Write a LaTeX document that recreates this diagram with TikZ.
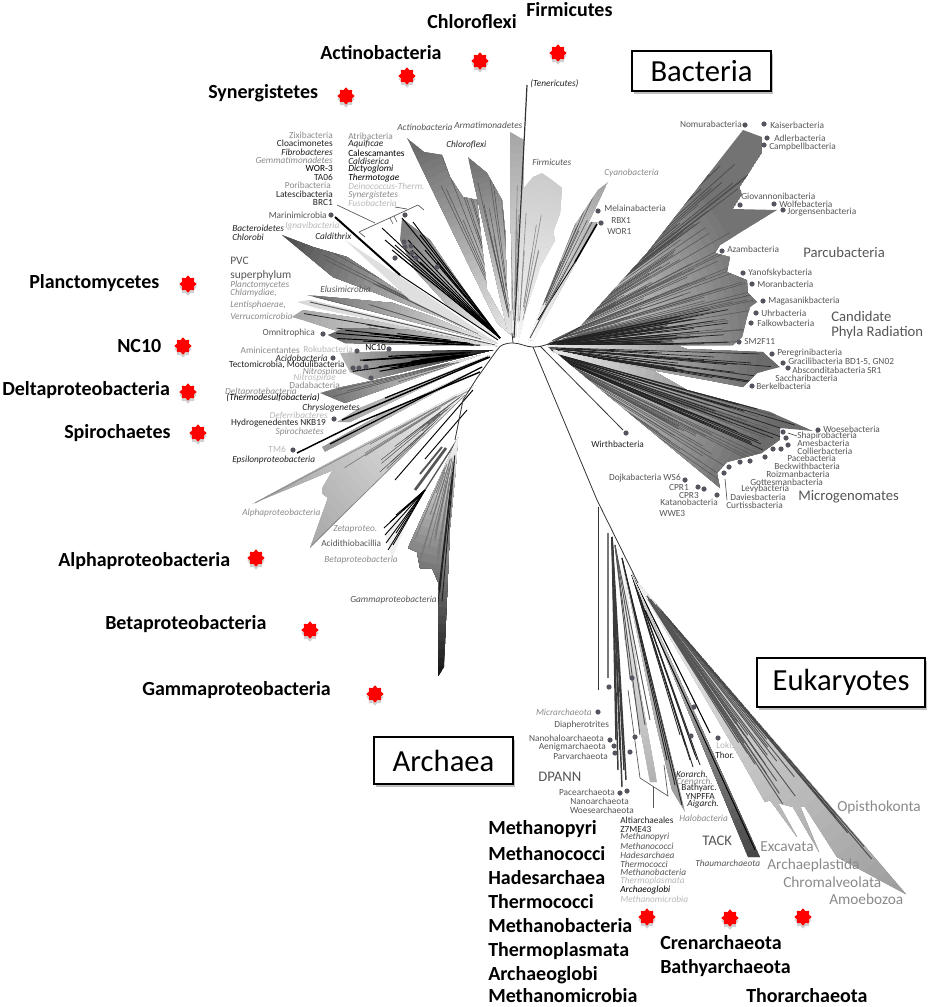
\documentclass[tikz,border=0pt]{standalone}
\usepackage{fontspec}
\setmainfont{Carlito}
\usetikzlibrary{shapes.geometric}
\definecolor{ca}{HTML}{222222}
\definecolor{cb}{HTML}{555555}
\definecolor{cc}{HTML}{8A8A8A}
\definecolor{cd}{HTML}{B8B8B8}
\definecolor{dotc}{HTML}{555560}
\newcommand\sz[1]{\fontsize{#1}{#1}\selectfont}
\newcounter{lb}
\newcommand\lab[6]{\stepcounter{lb}\node[anchor=#3,inner sep=0pt,text=#4,font=#5] (L\thelb) at (#1,#2) {#6};}
\newcommand\slab[4]{\lab{#1}{#2}{west}{#3}{\sz{7}}{#4}}
\newcommand\srab[4]{\lab{#1}{#2}{east}{#3}{\sz{7}}{#4}}
\newcommand\ilab[4]{\lab{#1}{#2}{west}{#3}{\sz{7}\itshape}{#4}}
\newcommand\irab[4]{\lab{#1}{#2}{east}{#3}{\sz{7}\itshape}{#4}}
\newcommand\mlab[5]{\lab{#1}{#2}{west}{#3}{\sz{#4}}{#5}}
\newcommand\bglab[3]{\lab{#1}{#2}{west}{black}{\sz{15}\bfseries}{#3}}
% radial gradient inside the current polygon: apex x, y, radius, black% at apex, black% at radius
\newcommand\radfill[5]{\begin{scope}\clip \Pth -- cycle;
 \fill[black!#5] \Pth -- cycle;
 \foreach \k in {28,27,...,1}{\pgfmathsetmacro\pct{#4+(#5-#4)*\k/28}\pgfmathsetmacro\rad{#3*\k/28}
 \fill[black!\pct] (#1,#2) circle (\rad);}\end{scope}}
\newcommand\raysin[8]{\begin{scope}\clip \Pth -- cycle;
 \foreach \i in {1,...,#7}{\pgfmathsetmacro\aang{#3+(#4-#3)*rnd}\pgfmathsetmacro\rrad{#5+(#6-#5)*rnd}\pgfmathsetmacro\sss{15+35*rnd}\pgfmathsetmacro\lll{\rrad-\sss}
 \draw[#8] (#1,#2) ++(\aang:\sss) -- ++(\aang:\lll);}\end{scope}}
\newcommand\redstar[2]{\node[star,star points=8,star point ratio=1.35,minimum size=13pt,inner sep=0pt,fill=black,fill opacity=.18,draw=none] at (#1,#2+3) {};
 \node[star,star points=8,star point ratio=1.35,minimum size=13pt,inner sep=0pt,fill=red,draw=none] at (#1,#2) {};}
\newcommand\tbox[6]{\fill[black,opacity=.25] (#1+2,#2+3) rectangle (#3+2,#4+3);
 \node[draw=black,line width=1.1pt,fill=white,minimum width=(#3-#1)*0.75pt,minimum height=(#4-#2)*0.75pt,inner sep=0pt,font=\sz{23}] (#6) at ({(#1+#3)/2},{(#2+#4)/2}) {#5};}
\tikzset{rayd/.style={cb,line width=.4pt},raym/.style={cc,line width=.45pt},
 tree/.style={black!80,line width=.6pt},brk/.style={cb,line width=.5pt}}
\begin{document}
\begin{tikzpicture}[x=0.75pt,y=-0.75pt]
\useasboundingbox (0,0) rectangle (933,1007);
\pgfmathsetseed{4242}
%---- Parcubacteria
\def\Pth{(547,345) -- (553,340) -- (580,327) -- (647,253) -- (743,130) -- (762,137) -- (762,153) -- (740,187) -- (742,195) -- (733,209) -- (777,210) -- (720,245) -- (715,253) -- (730,257) -- (727,272) -- (747,280) -- (748,293) -- (757,302) -- (750,307) -- (747,317) -- (742,337) -- (733,345) -- (675,345)}
\radfill{530}{347}{235}{2}{55}
\raysin{530}{347}{-46}{-1}{90}{235}{130}{rayd}
\raysin{530}{347}{-46}{-36}{170}{290}{22}{ca!80,line width=.6pt}
\raysin{530}{347}{-12}{-1}{130}{205}{30}{ca,line width=.55pt}
%---- Peregrini
\def\Pth{(553,352) -- (547,345) -- (675,345) -- (687,349) -- (763,352) -- (780,367) -- (757,373) -- (743,387) -- (707,380) -- (652,370)}
\radfill{530}{347}{235}{2}{58}
\raysin{530}{347}{1}{10}{120}{250}{22}{ca,line width=.5pt}
%---- Microgenomates
\def\Pth{(553,350) -- (652,370) -- (687,390) -- (770,412) -- (813,431) -- (780,428) -- (780,440) -- (762,453) -- (727,462) -- (717,473) -- (720,488)}
\radfill{530}{347}{255}{2}{58}
\raysin{530}{347}{15}{37}{150}{260}{50}{rayd}
\raysin{530}{347}{15}{24}{190}{285}{18}{ca,line width=.55pt}
%---- Actinobacteria
\def\Pth{(407,138) -- (424,152) -- (442,155) -- (450,177) -- (463,197) -- (477,200) -- (487,290) -- (512,335) -- (497,323)}
\radfill{512}{335}{215}{8}{58}
\raysin{512}{335}{-118}{-100}{90}{225}{14}{rayd}
%---- Chloroflexi
\def\Pth{(468,157) -- (487,173) -- (502,200) -- (505,230) -- (507,290) -- (513,333) -- (508,333)}
\radfill{513}{335}{180}{8}{55}
\raysin{513}{335}{-104}{-94}{90}{180}{10}{rayd}
%---- Armatimonadetes, Firmicutes
\def\Pth{(510,132) -- (524,140) -- (522,250) -- (516,336) -- (512,336)}
\radfill{514}{336}{205}{5}{35}
\raysin{514}{336}{-93}{-86}{100}{200}{7}{raym}
\def\Pth{(518,342) -- (520,193) -- (533,177) -- (542,173) -- (552,180) -- (562,188) -- (560,213) -- (553,232) -- (555,240) -- (540,267) -- (525,313)}
\radfill{518}{342}{170}{3}{20}
\raysin{518}{342}{-90}{-70}{70}{150}{10}{raym}
%---- Tenericutes
\coordinate (ten) at (527,85); \coordinate (tb) at (514,338);
\draw[tree,line width=.9pt] (ten) -- (tb);
%---- Cyanobacteria and relatives
\def\Pth{(608,182) -- (598,190) -- (575,225) -- (528,342) -- (532,340)}
\radfill{527}{342}{175}{0}{35}
\raysin{527}{342}{-68}{-62}{80}{170}{9}{rayd}
\def\Pth{(598,222) -- (590,222) -- (530,340) -- (533,340)}
\radfill{530}{340}{130}{0}{30}
\draw[black,line width=1.2pt] (575,262) -- (597,224);
\draw[black,line width=.6pt] (538,320) -- (575,262);
\draw[cb,line width=.7pt] (530,338) -- (592,222);
%---- Bacteroidetes
\def\Pth{(282,235) -- (313,247) -- (347,257) -- (397,290) -- (497,343) -- (440,317) -- (333,277)}
\radfill{497}{343}{240}{3}{70}
\raysin{497}{343}{-155}{-146}{120}{235}{14}{rayd}
%---- black group
\def\Pth{(402,218) -- (430,240) -- (445,262) -- (498,338) -- (450,308) -- (415,270) -- (400,240)}
\radfill{498}{338}{140}{3}{50}
\foreach \x/\y in {382/228,385/240,392/250,398/255,402/218,413/222,420/235,412/250,420/262,437/262,395/245,408/240,425/250}{\draw[black,line width=.7pt] (500,338) -- (\x,\y);}
\path[fill=gray!25] (345,240) -- (420,290) -- (495,342) -- (410,300) -- cycle;
\draw[black,line width=1.5pt] (335,217) -- (400,275); \draw[black,line width=.7pt] (400,275) -- (498,340);
%---- Elusimicrobia
\def\Pth{(307,295) -- (393,303) -- (433,317) -- (495,343) -- (367,310)}
\radfill{497}{344}{190}{5}{55}
\raysin{497}{344}{-170}{-160}{90}{195}{8}{rayd}
%---- PVC
\def\Pth{(297,302) -- (310,300) -- (495,345) -- (317,308)}
\radfill{495}{345}{200}{3}{15}
\draw[cb,line width=.7pt] (310,302) -- (495,345);
\def\Pth{(292,317) -- (303,310) -- (370,320) -- (495,346) -- (350,335) -- (303,320)}
\radfill{495}{346}{205}{5}{35}
\raysin{497}{346}{-176}{-170}{90}{205}{10}{ca,line width=.6pt}
%---- Omnitrophica
\def\Pth{(328,335) -- (345,328) -- (410,330) -- (497,346) -- (420,345) -- (345,343)}
\radfill{497}{346}{170}{5}{60}
\raysin{497}{346}{-178}{-172}{70}{165}{10}{black,line width=.7pt}
%---- Acido group
\def\Pth{(340,353) -- (370,352) -- (493,350) -- (370,380) -- (350,372)}
\radfill{493}{350}{150}{90}{30}
\raysin{495}{351}{170}{182}{60}{150}{18}{black,line width=.8pt}
%---- Delta
\def\Pth{(320,393) -- (342,387) -- (400,375) -- (480,355) -- (345,403)}
\radfill{485}{355}{165}{5}{55}
\raysin{485}{355}{160}{168}{80}{165}{7}{rayd}
%---- Chrysiogenetes, Spirochaetes, TM6
\def\Pth{(337,422) -- (360,408) -- (490,355) -- (350,422)}
\radfill{490}{355}{160}{10}{35}
\draw[black,line width=1.1pt] (342,420) -- (490,357);
\draw[black,line width=.9pt] (385,398) -- (488,357);
\def\Pth{(322,447) -- (380,415) -- (482,367) -- (325,452)}
\radfill{482}{367}{170}{10}{40}
\draw[black,line width=.9pt] (330,444) -- (482,367);
\draw[black,line width=1.1pt] (297,453) -- (360,422) -- (480,372);
%---- Alpha
\def\Pth{(252,504) -- (333,470) -- (323,487) -- (322,493) -- (328,498) -- (310,548) -- (460,397) -- (475,385)}
\radfill{476}{385}{240}{3}{35}
\raysin{476}{385}{143}{152}{80}{170}{6}{cc!90!black,line width=.5pt}
\raysin{476}{385}{135}{143}{60}{130}{16}{rayd}
\draw[raym,line width=.6pt] (255,503) -- (470,390);
\draw[raym,line width=.6pt] (312,545) -- (465,395);
%---- separate long rays
\coordinate (ra) at (395,480); \coordinate (rb) at (473,390); \draw[black,line width=.7pt] (ra) -- (rb);
\draw[black,line width=.7pt] (425,459) -- (467,410); \draw[cb,line width=1.4pt] (420,474) -- (442,447);
%---- Beta
\path[fill=gray!12] (385,533) -- (395,520) -- (415,505) -- (392,558) -- cycle;
\foreach \x/\y in {388/550,393/545,386/543,385/535,384/528,396/533,390/522,396/515,404/510}{\draw[black,line width=.65pt] (\x,\y) -- (425,490);}
\draw[cb,line width=2pt] (415,490) -- (446,448);
\draw[cb,line width=1pt] (425,490) -- (457,440);
%---- Gamma
\def\Pth{(458,437) -- (408,548) -- (417,552) -- (420,568) -- (432,568) -- (438,582) -- (438,677) -- (444,667) -- (450,527) -- (455,477)}
\radfill{456}{440}{235}{3}{90}
\raysin{456}{440}{92}{125}{50}{130}{22}{cb!80,line width=.55pt}
\raysin{456}{440}{94}{98}{150}{235}{4}{ca,line width=.7pt}
%---- trunks
\draw[tree] (497,350) .. controls (500,345) and (505,343) .. (513,343) .. controls (520,343) and (526,347) .. (533,347) .. controls (545,347) and (555,342) .. (580,327);
\draw[tree] (513,343) -- (512,333);
\draw[tree] (497,350) -- (477,378) -- (463,400) -- (455,440);
\coordinate (ar) at (533,347); \coordinate (as) at (638,583);
\draw[tree] (ar) -- (597,500) -- (as);
\coordinate (wa) at (540,346); \coordinate (wb) at (623,430); \draw[tree] (wa) -- (wb);
\draw[tree] (598,507) -- (598,690);
%---- Archaea
\draw[cb!80,line width=1.3pt] (608,533) -- (608,678);
\def\Pth{(622,557) -- (640,690) -- (657,782) -- (650,782) -- (635,700) -- (625,640)}
\radfill{622}{557}{230}{0}{30}
\foreach \x/\y in {622/787,626/780,618/770,616/740,620/750,624/770}{\draw[cb!70!black,line width=1.1pt] (612,537) -- (\x,\y);}
\foreach \x/\y in {630/677,640/735,645/725,650/720}{\draw[cb,line width=.7pt] (615,545) -- (\x,\y);}
\def\Pth{(622,560) -- (685,812) -- (672,790) -- (655,720)}
\radfill{622}{560}{260}{15}{40}
\foreach \x/\y in {667/760,675/785,682/805}{\draw[black!85,line width=.7pt] (622,558) -- (\x,\y);}
\foreach \x/\y in {693/767,697/760,690/760,685/745,680/735,700/765,695/755}{\draw[black!85,line width=.65pt] (632,575) -- (\x,\y);}
\draw[black,line width=.8pt] (632,575) -- (710,733);
\def\Pth{(632,575) -- (760,857) -- (748,857) -- (700,740)}
\radfill{632}{575}{310}{10}{72}
\draw[black,line width=.7pt] (645,610) -- (755,850);
%---- Eukaryotes
\def\Pth{(638,583) -- (907,895) -- (837,857) -- (805,807) -- (800,806) -- (819,852) -- (793,807) -- (778,803) -- (797,837) -- (770,800) -- (765,802) -- (743,763)}
\radfill{638}{583}{410}{5}{38}
\raysin{638}{583}{49.5}{58}{170}{265}{24}{cb,line width=.7pt}
\raysin{638}{583}{49.2}{50.5}{300}{410}{5}{cb!85!black,line width=.7pt}
%---- brackets and leader lines
\draw[brk] (337,205) -- (375,223);
\draw[brk] (365,237) -- (359,232) -- (418,205) -- (424,210);
\draw[brk] (390,218) -- (393,224) (394,216) -- (397,222);
\draw[brk] (395,207) -- (407,209);
\draw[brk] (628,690) -- (640,778) -- (668,796) -- (664,765);
\draw[brk] (653,787) -- (653,808);
\draw[brk] (788,433) -- (797,436);
\draw[brk] (725,479) -- (727,500);
%---- dots
\foreach \x/\y in {331/215,405/215,404/242,405/247,411/246,412/253,416/258,395/258,437/267,323/334,389/349,357/351,333/358,353/368,359/368,366/367,371/378,334/419,293/450,
745/125,764/124,767/138,764/145,740/205,774/204,783/210,722/251,743/273,752/284,763/301,756/313,751/323,739/342,772/354,783/363,788/368,752/386,
818/430,783/432,786/438,788/445,781/449,773/449,765/457,750/461,740/462,729/467,724/473,685/480,698/487,704/489,717/495,626/433,
598/712,609/687,632/678,610/740,614/746,615/753,620/793,627/791,635/737,630/752,694/707,691/736,718/738,598/211,601/223}{\fill[dotc] (\x,\y) circle (2.6);}
%---- stars
\redstar{480}{61}\redstar{558}{53}\redstar{407}{76}\redstar{346}{96}\redstar{188}{284}\redstar{183}{346}\redstar{188}{392}\redstar{198}{433}\redstar{256}{558}\redstar{310}{630}\redstar{375}{694}\redstar{647}{917}\redstar{730}{918}\redstar{803}{917}
%---- boxes
\tbox{632}{51}{771}{91}{Bacteria}{bbox}
\tbox{757}{658}{925}{707}{Eukaryotes}{ebox}
\tbox{374}{737}{513}{784}{Archaea}{abox}
%---- big labels
\bglab{427}{22}{Chloroflexi}\bglab{526}{10}{Firmicutes}\bglab{320}{53}{Actinobacteria}\bglab{208}{93}{Synergistetes}
\bglab{29}{283}{Planctomycetes}\bglab{117}{346}{NC10}\bglab{2}{390}{Deltaproteobacteria}\bglab{64}{433}{Spirochaetes}
\bglab{58}{561}{Alphaproteobacteria}\bglab{105}{624}{Betaproteobacteria}\bglab{142}{690}{Gammaproteobacteria}
\bglab{488}{829}{Methanopyri}\bglab{488}{854}{Methanococci}\bglab{488}{878}{Hadesarchaea}\bglab{488}{902}{Thermococci}
\bglab{488}{926}{Methanobacteria}\bglab{488}{951}{Thermoplasmata}\bglab{488}{975}{Archaeoglobi}\bglab{488}{996}{Methanomicrobia}
\bglab{660}{943}{Crenarchaeota}\bglab{660}{968}{Bathyarchaeota}\bglab{746}{996}{Thorarchaeota}
%---- top left small labels
\srab{333}{135}{cc}{Zixibacteria}\srab{333}{143}{ca}{Cloacimonetes}\irab{333}{152}{ca}{Fibrobacteres}\irab{333}{160}{cc}{Gemmatimonadetes}
\srab{333}{168}{black}{WOR-3}\srab{333}{177}{ca}{TA06}\srab{331}{185}{cc}{Poribacteria}\srab{333}{194}{ca}{Latescibacteria}\srab{333}{202}{ca}{BRC1}
\slab{348}{136}{cc}{Atribacteria}\ilab{348}{144}{ca}{Aquificae}\slab{348}{153}{black}{Calescamantes}\ilab{348}{161}{ca}{Caldiserica}
\ilab{348}{169}{black}{Dictyoglomi}\ilab{348}{178}{black}{Thermotogae}\ilab{348}{186}{cd}{Deinococcus-Therm.}\ilab{348}{195}{cc}{Synergistetes}\ilab{348}{203}{cd}{Fusobacteria}
\srab{327}{215}{cb}{Marinimicrobia}\ilab{232}{228}{ca}{Bacteroidetes}\ilab{232}{237}{ca}{Chlorobi}\ilab{285}{226}{cd}{Ignavibacteria}\ilab{315}{236}{ca}{Caldithrix}
\mlab{230}{261}{cb}{8.6}{PVC}\mlab{230}{275}{cb}{8.6}{superphylum}
\ilab{230}{285}{cc}{Planctomycetes}\ilab{230}{293}{cc}{Chlamydiae,}\ilab{230}{305}{cc}{Lentisphaerae,}\ilab{230}{316}{cc}{Verrucomicrobia}
\ilab{320}{289}{cb}{Elusimicrobia}\srab{315}{333}{cb}{Omnitrophica}
\ilab{397}{127}{cb}{Actinobacteria}\ilab{454}{125}{cb}{Armatimonadetes}\ilab{446}{145}{ca}{Chloroflexi}\ilab{530}{84}{ca}{(Tenericutes)}
\ilab{532}{162}{cb}{Firmicutes}\ilab{604}{173}{cc}{Cyanobacteria}\slab{604}{208}{cb}{Melainabacteria}\slab{611}{220}{cb}{RBX1}\slab{607}{231}{cb}{WOR1}
%---- left middle
\srab{300}{350}{cc}{Aminicentantes}\slab{303}{349}{cd}{Rokubacteria}\slab{365}{347}{black}{NC10}\irab{328}{358}{ca}{Acidobacteria}
\srab{345}{365}{ca}{Tectomicrobia, Modulibacteria}\irab{347}{372}{cc}{Nitrospinae}\irab{336}{378}{cd}{Nitrospirae}\srab{340}{385}{cc}{Dadabacteria}
\irab{297}{392}{cc}{Deltaprotebacteria}\irab{320}{398}{black}{(Thermodesulfobacteria)}\irab{360}{408}{ca}{Chrysiogenetes}\irab{328}{416}{cd}{Deferribacteres}
\srab{326}{423}{ca}{Hydrogenedentes NKB19}\irab{324}{432}{cc}{Spirochaetes}\srab{286}{449}{cd}{TM6}\ilab{232}{460}{ca}{Epsilonproteobacteria}
\ilab{242}{513}{cc}{Alphaproteobacteria}\ilab{333}{529}{cc}{Zetaproteo.}\slab{321}{543}{cb}{Acidithiobacillia}\ilab{324}{560}{cc}{Betaproteobacteria}\ilab{350}{600}{cb}{Gammaproteobacteria}
%---- CPR
\srab{742}{124}{cb}{Nomurabacteria}\slab{770}{125}{cb}{Kaiserbacteria}\slab{774}{138}{cb}{Adlerbacteria}\slab{769}{147}{cb}{Campbellbacteria}
\slab{741}{196}{cb}{Giovannonibacteria}\slab{779}{204}{cb}{Wolfebacteria}\slab{787}{212}{cb}{Jorgensenbacteria}\slab{727}{249}{cb}{Azambacteria}
\mlab{803}{252}{cb}{11}{Parcubacteria}\slab{748}{273}{cb}{Yanofskybacteria}\slab{757}{284}{cb}{Moranbacteria}\slab{768}{301}{cb}{Magasanikbacteria}
\slab{761}{313}{cb}{Uhrbacteria}\slab{757}{323}{cb}{Falkowbacteria}\slab{744}{341}{cb}{SM2F11}\mlab{831}{316}{cb}{11}{Candidate}\mlab{831}{333}{cb}{11}{Phyla Radiation}
\slab{777}{353}{cb}{Peregrinibacteria}\slab{788}{362}{cb}{Gracilibacteria BD1-5, GN02}\slab{792}{370}{cb}{Absconditabacteria SR1}\slab{775}{378}{cb}{Saccharibacteria}\slab{756}{386}{cb}{Berkelbacteria}
\slab{823}{429}{cb}{Woesebacteria}\slab{797}{436}{cb}{Shapirobacteria}\slab{797}{443}{cb}{Amesbacteria}\slab{797}{451}{cb}{Collierbacteria}\slab{787}{458}{cb}{Pacebacteria}
\slab{774}{466}{cb}{Beckwithbacteria}\slab{766}{474}{cb}{Roizmanbacteria}\slab{750}{482}{cb}{Gottesmanbacteria}\slab{741}{489}{cb}{Levybacteria}\slab{730}{497}{cb}{Daviesbacteria}\slab{726}{505}{cb}{Curtissbacteria}
\mlab{798}{497}{cb}{11}{Microgenomates}\srab{681}{478}{cb}{Dojkabacteria WS6}\srab{689}{487}{cb}{CPR1}\srab{699}{495}{cb}{CPR3}\srab{718}{502}{cb}{Katanobacteria}\slab{659}{513}{cb}{WWE3}\slab{591}{444}{ca}{Wirthbacteria}
%---- Archaea labels
\irab{592}{712}{cc}{Micrarchaeota}\slab{554}{725}{cb}{Diapherotrites}\srab{604}{738}{cb}{Nanohaloarchaeota}\srab{606}{747}{cb}{Aenigmarchaeota}\srab{608}{756}{cb}{Parvarchaeota}
\mlab{538}{777}{cb}{11}{DPANN}\srab{615}{792}{cb}{Pacearchaeota}\srab{629}{801}{cb}{Nanoarchaeota}\srab{634}{810}{cb}{Woesearchaeota}
\slab{620}{820}{ca}{Altiarchaeales}\slab{620}{829}{ca}{Z7ME43}\ilab{620}{837}{cb}{Methanopyri}\ilab{620}{846}{cb}{Methanococci}\ilab{620}{855}{cb}{Hadesarchaea}\ilab{620}{864}{cb}{Thermococci}
\ilab{620}{872}{cb}{Methanobacteria}\ilab{620}{881}{cd}{Thermoplasmata}\ilab{620}{890}{black}{Archaeoglobi}\ilab{620}{899}{cd}{Methanomicrobia}
\irab{708}{774}{ca}{Korarch.}\irab{713}{781}{cc}{Crenarch.}\srab{717}{788}{ca}{Bathyarc.}\srab{715}{796}{ca}{YNPFFA}\irab{719}{804}{ca}{Aigarch.}
\ilab{679}{818}{cc}{Halobacteria}\mlab{702}{841}{cb}{11}{TACK}\ilab{695}{863}{cb}{Thaumarchaeota}\slab{716}{745}{cd}{Loki.}\slab{715}{755}{ca}{Thor.}
%---- Eukaryote groups
\mlab{837}{807}{cc}{11.5}{Opisthokonta}\mlab{760}{847}{cc}{11.5}{Excavata}\mlab{767}{865}{cc}{11.5}{Archaeplastida}\mlab{783}{882}{cc}{11.5}{Chromalveolata}\mlab{829}{899}{cc}{11.5}{Amoebozoa}
\end{tikzpicture}
\end{document}
